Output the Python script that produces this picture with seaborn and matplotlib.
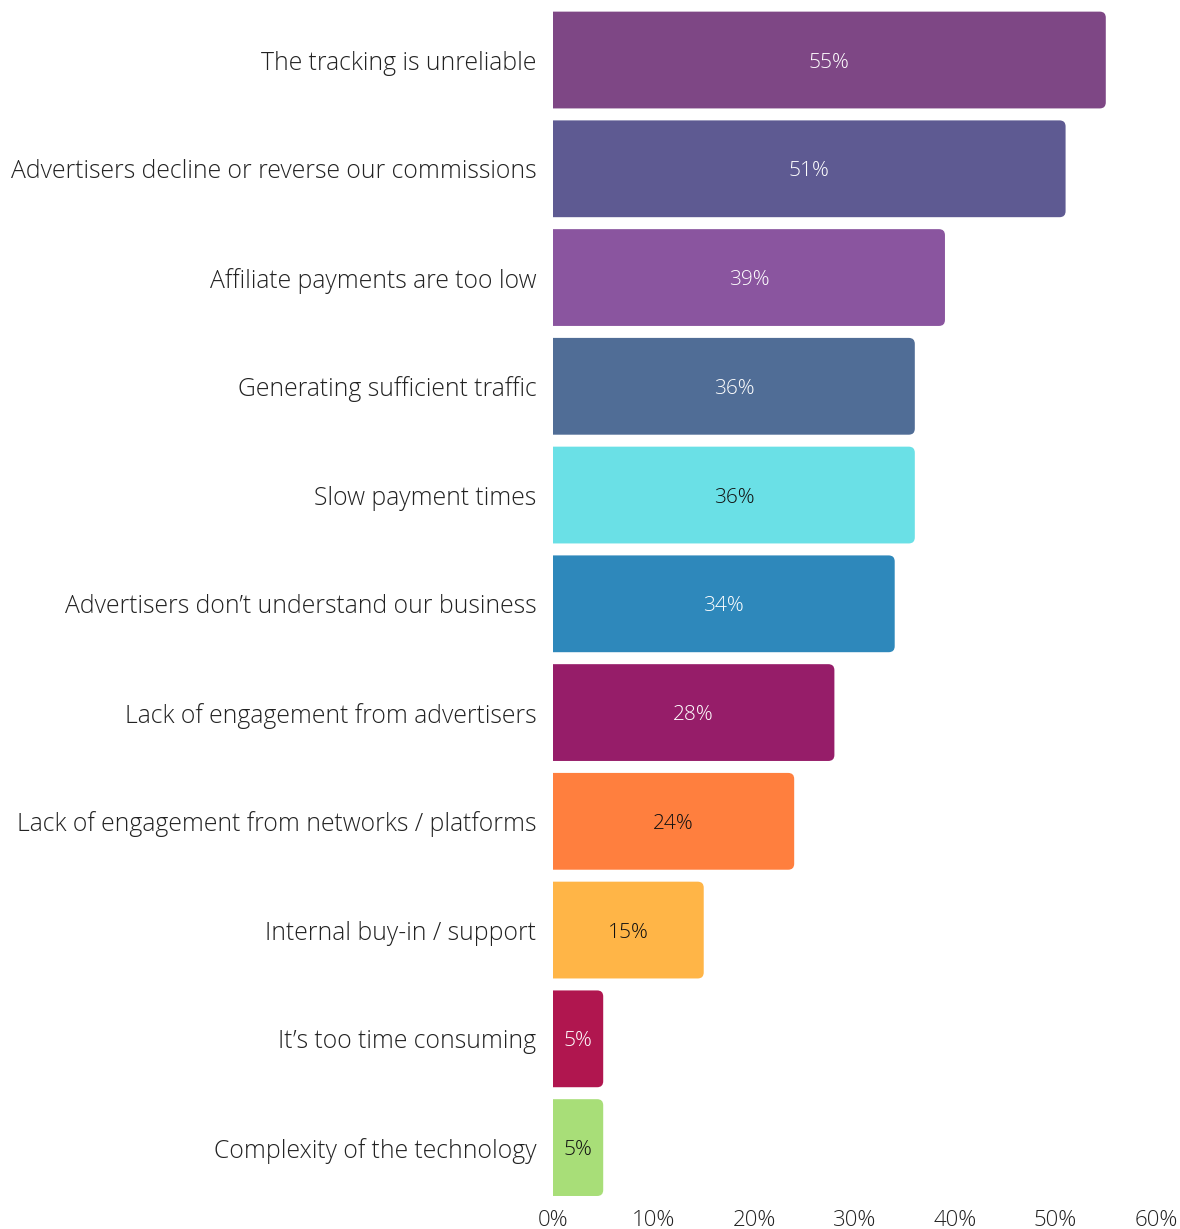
import matplotlib
matplotlib.use("Agg")
import matplotlib.pyplot as plt
from matplotlib.patches import FancyBboxPatch
import seaborn as sns
import pandas as pd

categories = [
    "The tracking is unreliable",
    "Advertisers decline or reverse our commissions",
    "Affiliate payments are too low",
    "Generating sufficient traffic",
    "Slow payment times",
    "Advertisers don\u2019t understand our business",
    "Lack of engagement from advertisers",
    "Lack of engagement from networks / platforms",
    "Internal buy-in / support",
    "It\u2019s too time consuming",
    "Complexity of the technology",
]
values = [55, 51, 39, 36, 36, 34, 28, 24, 15, 5, 5]
bar_colors = [
    "#7E4785", "#5E5A92", "#8A559F", "#506D96", "#6AE0E6", "#2E88BB",
    "#961D69", "#FF7F3E", "#FFB547", "#B0164F", "#A8DE78",
]
label_colors = [
    "white", "white", "white", "white", "#111111", "white",
    "white", "#111111", "#111111", "white", "#111111",
]
x_ticks = [0, 10, 20, 30, 40, 50, 60]
x_tick_labels = [f"{t}%" for t in x_ticks]

sns.set_theme(style="white")
plt.rcParams["font.family"] = ["Open Sans", "DejaVu Sans"]
plt.rcParams["font.weight"] = "light"

df = pd.DataFrame({"reason": categories, "share": values})

fig = plt.figure(figsize=(11.8, 12.29), dpi=100)
ax = fig.add_axes([0.4686, 0.022, 0.5111, 0.9734])

sns.barplot(data=df, x="share", y="reason", hue="reason", palette=bar_colors,
            legend=False, width=0.89, ax=ax, saturation=1)

ax.set_xlim(0, 60)
ax.set_ylim(10.5, -0.5)

# swap plain rectangles for ones with rounded right-hand corners
px_x = 0.5111 * 1180 / 60.0      # pixels per percent
px_y = 0.9734 * 1229 / 11.0      # pixels per category
aspect = px_x / px_y
for patch in list(ax.patches):
    x0, y0 = patch.get_x(), patch.get_y()
    w, h = patch.get_width(), patch.get_height()
    fc = patch.get_facecolor()
    patch.set_visible(False)
    rounded = FancyBboxPatch((x0 - 2, y0), w + 2, h,
                             boxstyle="round,pad=0,rounding_size=0.6",
                             mutation_aspect=aspect, facecolor=fc,
                             edgecolor="none", linewidth=0)
    ax.add_patch(rounded)

for i, (v, c) in enumerate(zip(values, label_colors)):
    ax.text(v / 2, i, f"{v}%", ha="center", va="center_baseline",
            color=c, fontsize=15)

ax.set_xticks(x_ticks)
ax.set_xticklabels(x_tick_labels, fontsize=16, color="#222222")
ax.tick_params(axis="y", labelsize=17.8, labelcolor="#222222", length=0, pad=12)
ax.tick_params(axis="x", length=0, pad=6)
ax.set_xlabel("")
ax.set_ylabel("")
for s in ax.spines.values():
    s.set_visible(False)
ax.grid(False)

fig.savefig("out.png", dpi=100)
